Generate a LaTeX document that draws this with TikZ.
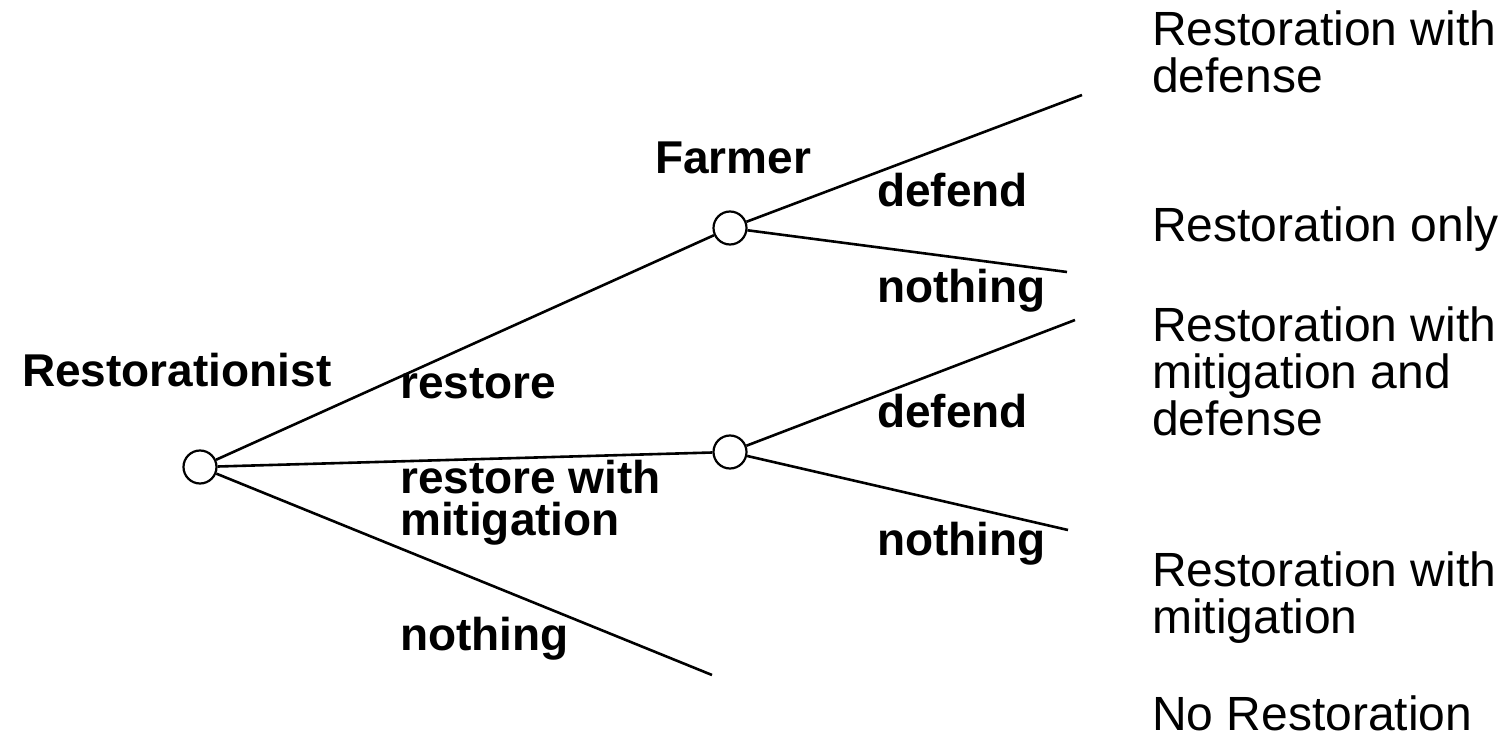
\documentclass[tikz,border=0pt]{standalone}
\usepackage{fontspec}
\setmainfont{Liberation Sans}
\lineskiplimit=-100pt
\begin{document}
\begin{tikzpicture}[x=1pt,y=-1pt,
  chance/.style={circle,draw,line width=2.2pt,minimum size=33pt,inner sep=0pt,fill=white},
  edge/.style={line width=2.6pt},
  lbl/.style={anchor=base west,inner sep=0pt,font=\fontsize{46}{42}\selectfont\bfseries},
  outc/.style={anchor=base west,inner sep=0pt,font=\fontsize{48}{47}\selectfont},
  multi/.style={align=left}]
\useasboundingbox (0,0) rectangle (1507,735);
\node[chance] (r) at (200,467) {};
\node[chance] (f1) at (730,228) {};
\node[chance] (f2) at (730,452) {};
\coordinate (e0) at (712,675);
\coordinate (e1) at (1082,95);
\coordinate (e2) at (1067,272);
\coordinate (e3) at (1075,320);
\coordinate (e4) at (1068,530);
\draw[edge] (r) -- (f1);
\draw[edge] (r) -- (f2);
\draw[edge] (r) -- (e0);
\draw[edge] (f1) -- (e1);
\draw[edge] (f1) -- (e2);
\draw[edge] (f2) -- (e3);
\draw[edge] (f2) -- (e4);
\node[lbl] (tr) at (22,386) {Restorationist};
\node[lbl] (tf) at (655,174) {Farmer};
\node[lbl] (l1) at (400,398) {restore};
\node[lbl,multi] (l2) at (400,535) {restore with\\mitigation};
\node[lbl] (l3) at (400,650) {nothing};
\node[lbl] (l4) at (877,207) {defend};
\node[lbl] (l5) at (877,303) {nothing};
\node[lbl] (l6) at (877,427) {defend};
\node[lbl] (l7) at (877,555) {nothing};
\node[outc,multi] (o1) at (1152,93) {Restoration with\\defense};
\node[outc] (o2) at (1152,242) {Restoration only};
\node[outc,multi] (o3) at (1152,435) {Restoration with\\mitigation and\\defense};
\node[outc,multi] (o4) at (1152,633) {Restoration with\\mitigation};
\node[outc] (o5) at (1152,730) {No Restoration};
\end{tikzpicture}
\end{document}
